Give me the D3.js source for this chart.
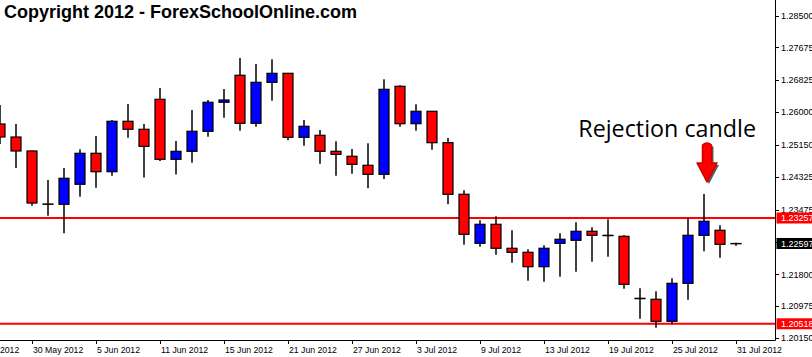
<!DOCTYPE html>
<html>
<head>
<meta charset="utf-8">
<script src="https://cdn.jsdelivr.net/npm/d3@7"></script>
<style>
  body { margin: 0; background: #fff; }
  svg { display: block; }
</style>
</head>
<body>
<div id="chart"></div>
<script>
// two days before the first visible candle, only used for the axis
const leadDates = ["2012-05-24", "2012-05-25"];

const candleDates = [
  "2012-05-28","2012-05-29","2012-05-30","2012-05-31","2012-06-01",
  "2012-06-04","2012-06-05","2012-06-06","2012-06-07","2012-06-08",
  "2012-06-11","2012-06-12","2012-06-13","2012-06-14","2012-06-15",
  "2012-06-18","2012-06-19","2012-06-20","2012-06-21","2012-06-22",
  "2012-06-25","2012-06-26","2012-06-27","2012-06-28","2012-06-29",
  "2012-07-02","2012-07-03","2012-07-04","2012-07-05","2012-07-06",
  "2012-07-09","2012-07-10","2012-07-11","2012-07-12","2012-07-13",
  "2012-07-16","2012-07-17","2012-07-18","2012-07-19","2012-07-20",
  "2012-07-23","2012-07-24","2012-07-25","2012-07-26","2012-07-27",
  "2012-07-30","2012-07-31"
];

const opens = [
  1.25691,1.25354,1.24992,1.23620,1.23612,
  1.24130,1.24932,1.24456,1.25761,1.25554,
  1.26330,1.24777,1.24984,1.25502,1.26253,
  1.26952,1.25709,1.26770,1.27003,1.25346,
  1.25398,1.24984,1.24855,1.24622,1.24388,
  1.26667,1.25699,1.26020,1.25207,1.23871,
  1.22602,1.23094,1.22473,1.22369,1.21996,
  1.22602,1.22680,1.22913,1.22809,1.22783,
  1.21168,1.21152,1.20582,1.21566,1.22809,
  1.22939,1.22590
];
const highs = [
  1.26183,1.25691,1.25005,1.24241,1.24552,
  1.25036,1.25380,1.25794,1.26209,1.25691,
  1.26623,1.25251,1.26053,1.26312,1.26597,
  1.27400,1.27244,1.27366,1.27011,1.25794,
  1.25535,1.25243,1.25044,1.25191,1.26848,
  1.26693,1.26201,1.26027,1.25328,1.23974,
  1.23198,1.23301,1.22939,1.22447,1.22550,
  1.22861,1.23146,1.23016,1.23223,1.22809,
  1.21437,1.21359,1.21696,1.23249,1.23878,
  1.23068,1.22618
];
const lows = [
  1.25173,1.24552,1.23576,1.23317,1.22861,
  1.23809,1.24042,1.24352,1.25336,1.24306,
  1.24733,1.24383,1.24689,1.25362,1.25854,
  1.25517,1.25621,1.26294,1.25269,1.25129,
  1.24663,1.24352,1.24404,1.24026,1.24267,
  1.25621,1.25517,1.25025,1.23612,1.22566,
  1.22514,1.22307,1.22100,1.21634,1.21608,
  1.21737,1.21867,1.22126,1.22255,1.21427,
  1.20650,1.20417,1.20520,1.21142,1.22395,
  1.22229,1.22540
];
const closes = [
  1.25354,1.24992,1.23645,1.23612,1.24285,
  1.24932,1.24456,1.25761,1.25554,1.25113,
  1.24777,1.24984,1.25502,1.26253,1.26312,
  1.25709,1.26770,1.27003,1.25346,1.25631,
  1.24984,1.24906,1.24647,1.24388,1.26589,
  1.25699,1.26020,1.25207,1.23871,1.22835,
  1.23094,1.22473,1.22369,1.21996,1.22473,
  1.22706,1.22913,1.22809,1.22799,1.21540,
  1.21178,1.20582,1.21566,1.22809,1.23172,
  1.22576,1.22597
];

const priceTicks = [1.28500,1.27675,1.26825,1.26000,1.25150,1.24325,1.23475,1.22625,1.21800,1.20975,1.20150];
const levels = [1.23257, 1.20518];
const lastPrice = 1.22597;
const noteText = "Rejection candle";
const noteDate = "2012-07-27";
const titleText = "Copyright 2012 - ForexSchoolOnline.com";

const width = 812, height = 357;
const plotRight = 775, plotBottom = 340;

const parse = d3.timeParse("%Y-%m-%d");
const fmt = d3.timeFormat("%-d %b %Y");
const axisDates = leadDates.concat(candleDates);

const svg = d3.select("#chart").append("svg")
    .attr("width", width)
    .attr("height", height)
    .style("font-family", "'Liberation Sans', Arial, sans-serif");

svg.append("rect").attr("width", width).attr("height", height).attr("fill", "#fff");

let x = d3.scalePoint()
    .domain(axisDates)
    .range([-32, 736]);

let y = d3.scaleLinear()
    .domain([1.2015, 1.285])
    .range([338, 15.5]);

svg.append("defs").append("clipPath").attr("id", "plot")
    .append("rect").attr("x", 0).attr("y", 0).attr("width", plotRight).attr("height", plotBottom);

const plot = svg.append("g").attr("clip-path", "url(#plot)");

// support / resistance levels
levels.forEach(l => {
    plot.append("line")
        .attr("x1", 0).attr("x2", plotRight)
        .attr("y1", y(l)).attr("y2", y(l))
        .attr("stroke", "#ff0000")
        .attr("stroke-width", 2);
});

// candles
const candles = candleDates.map((d, i) => ({date: d, o: opens[i], h: highs[i], l: lows[i], c: closes[i]}));
const bodyW = 10;

plot.selectAll(".wick")
    .data(candles)
    .enter()
    .append("line")
    .attr("class", "wick")
    .attr("x1", d => x(d.date)).attr("x2", d => x(d.date))
    .attr("y1", d => y(d.h)).attr("y2", d => y(d.l))
    .attr("stroke", "#000")
    .attr("stroke-width", 1.5);

plot.selectAll(".body")
    .data(candles)
    .enter()
    .append("rect")
    .attr("class", "body")
    .attr("x", d => x(d.date) - bodyW / 2)
    .attr("y", d => y(Math.max(d.o, d.c)))
    .attr("width", bodyW)
    .attr("height", d => Math.max(0.01, Math.abs(y(d.o) - y(d.c))))
    .attr("fill", d => d.c > d.o ? "#0000ff" : "#ff0000")
    .attr("stroke", "#000")
    .attr("stroke-width", 1.2);

// axes lines
svg.append("line")
    .attr("x1", plotRight + 0.5).attr("x2", plotRight + 0.5)
    .attr("y1", 0).attr("y2", plotBottom + 0.5)
    .attr("stroke", "#000");
svg.append("line")
    .attr("x1", 0).attr("x2", plotRight + 0.5)
    .attr("y1", plotBottom + 0.5).attr("y2", plotBottom + 0.5)
    .attr("stroke", "#000");

// price axis
priceTicks.forEach(t => {
    svg.append("line")
        .attr("x1", plotRight).attr("x2", plotRight + 4)
        .attr("y1", Math.round(y(t)) + 0.5).attr("y2", Math.round(y(t)) + 0.5)
        .attr("stroke", "#000");
    svg.append("text")
        .attr("x", plotRight + 6)
        .attr("y", y(t) + 3.3)
        .attr("font-size", 9)
        .attr("fill", "#000")
        .text(t.toFixed(5));
});

// date axis, a label every 4 bars
axisDates.forEach((d, i) => {
    if (i % 4 != 0) return;
    let tx = x(d);
    svg.append("line")
        .attr("x1", tx + 0.5).attr("x2", tx + 0.5)
        .attr("y1", plotBottom).attr("y2", plotBottom + 4)
        .attr("stroke", "#000");
    svg.append("text")
        .attr("x", tx + 1)
        .attr("y", 353)
        .attr("font-size", 8.7)
        .attr("fill", "#000")
        .text(fmt(parse(d)));
});

// price boxes on the axis
function priceBox(v, bg) {
    svg.append("rect")
        .attr("x", plotRight + 1.5).attr("y", y(v) - 5.5)
        .attr("width", 40).attr("height", 11)
        .attr("fill", bg);
    svg.append("text")
        .attr("x", plotRight + 6)
        .attr("y", y(v) + 3.3)
        .attr("font-size", 9)
        .attr("fill", "#fff")
        .text(v.toFixed(5));
}
levels.forEach(l => priceBox(l, "#ff0000"));
priceBox(lastPrice, "#000");

// title
svg.append("text")
    .attr("x", 4)
    .attr("y", 18)
    .attr("font-size", 18)
    .attr("font-weight", "bold")
    .attr("fill", "#000")
    .text(titleText);

// annotation
const noteX = x(noteDate);
svg.append("text")
    .attr("x", noteX + 52)
    .attr("y", 137)
    .attr("text-anchor", "end")
    .attr("font-size", 23.3)
    .attr("font-family", "'Open Sans', sans-serif")
    .attr("fill", "#000")
    .text(noteText);

const arrow = d3.path();
arrow.moveTo(-4.5, 2);
arrow.quadraticCurveTo(0, -2, 4.5, 2);
arrow.lineTo(4.5, 20);
arrow.lineTo(10, 20);
arrow.lineTo(0, 39);
arrow.lineTo(-10, 20);
arrow.lineTo(-4.5, 20);
arrow.closePath();

svg.append("path")
    .attr("d", arrow.toString())
    .attr("transform", `translate(${noteX + 5},${145})`)
    .attr("fill", "#333")
    .attr("opacity", 0.8);
svg.append("path")
    .attr("d", arrow.toString())
    .attr("transform", `translate(${noteX + 3},${143})`)
    .attr("fill", "#ff0000")
    .attr("stroke", "#cc0000")
    .attr("stroke-linejoin", "round")
    .attr("stroke-width", 1.5);
</script>
</body>
</html>
